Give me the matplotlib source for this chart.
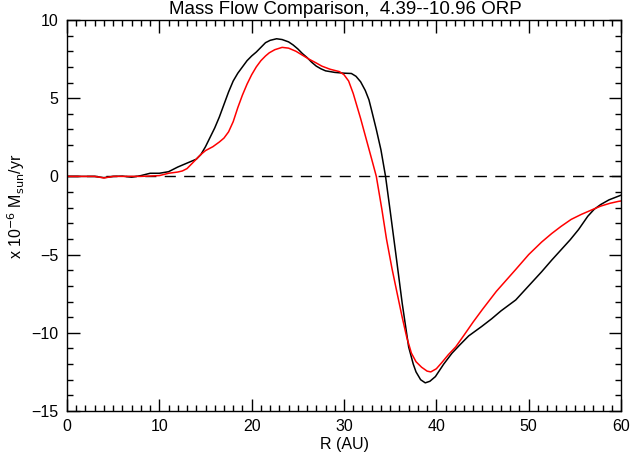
import matplotlib
matplotlib.use("Agg")
import matplotlib.pyplot as plt
from matplotlib.ticker import MultipleLocator

# Black curve
black_r = [0, 2, 3, 4, 5, 6, 7, 8, 9, 10, 11, 12, 13, 14, 14.5, 15, 15.5, 16, 16.5, 17,
           17.5, 18, 18.5, 19, 19.5, 20, 20.5, 21, 21.5, 22, 22.7, 23.3, 24, 24.5, 25,
           25.5, 26, 26.5, 27, 27.5, 28, 29, 30, 30.8, 31.3, 31.8, 32.3, 32.7, 33, 33.5,
           34, 34.5, 35, 35.6, 36.3, 37, 37.5, 37.8, 38.3, 38.8, 39.3, 39.9, 40.8, 41.7,
           42.5, 43.5, 44.9, 46, 47, 48.6, 50, 51.4, 52.5, 53.5, 54.5, 55.4, 56.4, 57.1,
           57.8, 58.7, 59.7, 60]
black_m = [0, 0, 0, -0.08, 0, 0.02, -0.05, 0.05, 0.2, 0.2, 0.3, 0.6, 0.85, 1.1, 1.4, 1.9,
           2.5, 3.1, 3.8, 4.6, 5.4, 6.1, 6.6, 7.0, 7.4, 7.7, 7.95, 8.25, 8.55, 8.7, 8.8,
           8.75, 8.6, 8.4, 8.15, 7.85, 7.6, 7.3, 7.05, 6.88, 6.75, 6.65, 6.6, 6.58, 6.4,
           6.05, 5.5, 4.9, 4.2, 3.0, 1.7, 0.0, -2.2, -4.9, -8.1, -10.9, -12.0, -12.5,
           -13.0, -13.2, -13.1, -12.8, -12.0, -11.3, -10.8, -10.2, -9.6, -9.1, -8.6, -7.9,
           -7.0, -6.1, -5.35, -4.7, -4.05, -3.4, -2.55, -2.1, -1.8, -1.5, -1.27, -1.2]

# Red curve
red_r = [0, 2, 3, 4, 5, 6, 8, 10, 11, 12, 12.5, 13, 13.5, 14, 14.5, 15, 15.8, 16.5, 17,
         17.5, 18, 18.5, 19, 19.5, 20, 20.5, 21, 21.5, 21.9, 22.5, 23.3, 24, 24.8, 25.5,
         26.2, 27, 27.6, 28.5, 29.5, 30, 30.5, 31, 31.3, 31.8, 32.4, 33, 33.5, 34.1, 34.6,
         35.2, 35.8, 36.3, 36.8, 37.3, 37.8, 38.4, 39.0, 39.4, 40.0, 40.6, 41.3, 42.1,
         43, 44, 45, 46.5, 48.6, 50, 51.4, 52.5, 53.5, 54.6, 55.7, 56.8, 57.8, 58.8, 59.7,
         60]
red_m = [0, 0, 0, -0.1, 0, 0, 0, 0.05, 0.2, 0.28, 0.35, 0.5, 0.8, 1.1, 1.4, 1.65, 1.9,
         2.2, 2.45, 2.85, 3.5, 4.4, 5.2, 5.9, 6.5, 7.0, 7.4, 7.7, 7.9, 8.1, 8.25, 8.2, 8.0,
         7.75, 7.5, 7.25, 7.05, 6.85, 6.7, 6.5, 6.1, 5.3, 4.7, 3.7, 2.4, 1.1, 0.0, -2.1,
         -4.0, -5.9, -7.6, -9.0, -10.3, -11.3, -11.85, -12.2, -12.45, -12.5, -12.3, -11.9,
         -11.4, -10.9, -10.15, -9.3, -8.5, -7.35, -5.95, -5.0, -4.2, -3.65, -3.2, -2.75,
         -2.43, -2.15, -1.9, -1.72, -1.6, -1.57]

x_ticks = [0, 10, 20, 30, 40, 50, 60]
y_ticks = [-15, -10, -5, 0, 5, 10]

plt.rcParams['font.family'] = ['Liberation Sans', 'DejaVu Sans']
fig = plt.figure(figsize=(6.44, 4.58), dpi=100)
ax = fig.add_axes([67/644, 1-411/458, (621-67)/644, (411-20)/458])

ax.axhline(0, color='black', lw=1, dashes=(8, 6))
ax.plot(black_r, black_m, color='black', lw=1.1)
ax.plot(red_r, red_m, color='#ff0000', lw=1.1)

ax.set_xlim(0, 60)
ax.set_ylim(-15, 10)
ax.set_xticks(x_ticks)
ax.set_yticks(y_ticks)
ax.set_xticklabels([str(v) for v in x_ticks])
ax.set_yticklabels([str(v).replace('-', '\u2212') for v in y_ticks])
ax.xaxis.set_minor_locator(MultipleLocator(1))
ax.yaxis.set_minor_locator(MultipleLocator(1))
ax.tick_params(which='both', direction='in', top=True, right=True, labelsize=11.5,
               width=1, colors='black')
ax.tick_params(which='major', length=9, pad=6)
ax.tick_params(which='minor', length=4.5)
for s in ax.spines.values():
    s.set_linewidth(1)

ax.set_xlabel('R (AU)', fontsize=11.5, labelpad=2)
fig.text(16/644, 1-206/458, r'x 10$^{-6}$ M$_{\rm sun}$/yr', rotation=90,
         ha='center', va='center', fontsize=11.5)
fig.text(345/644, 1-14/458, 'Mass Flow Comparison,  4.39--10.96 ORP',
         ha='center', va='baseline', fontsize=13.5)

fig.savefig('out.png', dpi=100)
